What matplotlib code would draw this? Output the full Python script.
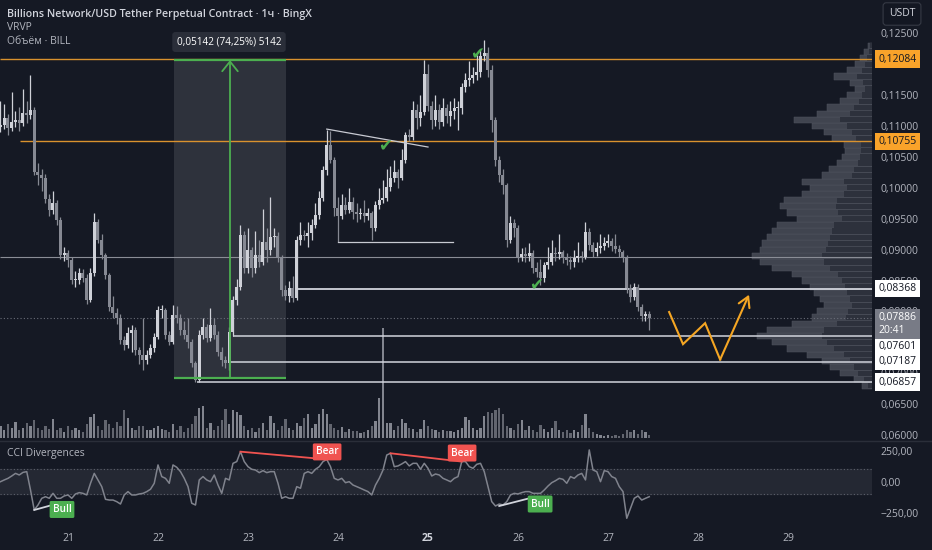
import matplotlib
matplotlib.use('Agg')
import matplotlib.pyplot as plt
from matplotlib.patches import Rectangle
from matplotlib.transforms import blended_transform_factory
from matplotlib.lines import Line2D

plt.rcParams['font.family'] = ['Open Sans', 'DejaVu Sans']

# ---------------- data ----------------
first_open = 0.1098
closes = [
 0.1102, 0.1113, 0.1097, 0.1106, 0.1110, 0.1105, 0.1121, 0.1118, 0.1126, 0.1026,
 0.1020, 0.1016, 0.0982, 0.0964, 0.0976, 0.0948, 0.0891, 0.0895, 0.0883, 0.0851,
 0.0851, 0.0862, 0.0854, 0.0819, 0.0862, 0.0945, 0.0916, 0.0891, 0.0859, 0.0807,
 0.0797, 0.0789, 0.0754, 0.0746, 0.0765, 0.0770, 0.0738, 0.0730, 0.0722, 0.0730,
 0.0741, 0.0759, 0.0802, 0.0802, 0.0762, 0.0751, 0.0794, 0.0789, 0.0770, 0.0762,
 0.0751, 0.0717, 0.0689, 0.0762, 0.0775, 0.0757, 0.0778, 0.0762, 0.0735, 0.0721,
 0.0716, 0.0767, 0.0818, 0.0840, 0.0924, 0.0870, 0.0899, 0.0870, 0.0891, 0.0880,
 0.0912, 0.0899, 0.0920, 0.0922, 0.0888, 0.0835, 0.0825, 0.0838, 0.0822, 0.0915,
 0.0923, 0.0922, 0.0927, 0.0940, 0.0956, 0.0984, 0.1029, 0.1069, 0.1045, 0.0968,
 0.0955, 0.0972, 0.0964, 0.0977, 0.0961, 0.0958, 0.0959, 0.0955, 0.0959, 0.0935,
 0.0972, 0.0980, 0.0984, 0.1001, 0.1016, 0.1025, 0.1016, 0.1045, 0.1085, 0.1082,
 0.1126, 0.1113, 0.1123, 0.1184, 0.1132, 0.1110, 0.1126, 0.1106, 0.1129, 0.1116,
 0.1124, 0.1129, 0.1129, 0.1163, 0.1174, 0.1178, 0.1182, 0.1187, 0.1213, 0.1218,
 0.1191, 0.1110, 0.1045, 0.1021, 0.1004, 0.0916, 0.0943, 0.0935, 0.0888, 0.0893,
 0.0890, 0.0895, 0.0870, 0.0864, 0.0854, 0.0875, 0.0880, 0.0895, 0.0893, 0.0896,
 0.0886, 0.0883, 0.0880, 0.0886, 0.0890, 0.0888, 0.0928, 0.0907, 0.0896, 0.0902,
 0.0906, 0.0910, 0.0914, 0.0906, 0.0901, 0.0896, 0.0888, 0.0838, 0.0823, 0.0840,
 0.0807, 0.0792, 0.0795, 0.07886]
highs = [
 0.1140, 0.1135, 0.1120, 0.1155, 0.1125, 0.1130, 0.1160, 0.1140, 0.1183, 0.1130,
 0.1040, 0.1030, 0.1022, 0.0990, 0.0995, 0.0980, 0.0952, 0.0905, 0.0900, 0.0888,
 0.0865, 0.0870, 0.0868, 0.0860, 0.0870, 0.0959, 0.0950, 0.0925, 0.0895, 0.0862,
 0.0825, 0.0805, 0.0795, 0.0760, 0.0775, 0.0778, 0.0775, 0.0742, 0.0790, 0.0738,
 0.0748, 0.0765, 0.0808, 0.0810, 0.0805, 0.0768, 0.0810, 0.0808, 0.0795, 0.0785,
 0.0790, 0.0755, 0.0720, 0.0770, 0.0790, 0.0780, 0.0805, 0.0790, 0.0768, 0.0742,
 0.0728, 0.0775, 0.0825, 0.0852, 0.0940, 0.0930, 0.0935, 0.0905, 0.0930, 0.0915,
 0.0965, 0.0935, 0.0985, 0.0935, 0.0928, 0.0892, 0.0842, 0.0850, 0.0858, 0.0922,
 0.0945, 0.0932, 0.0945, 0.0950, 0.0975, 0.0995, 0.1035, 0.1094, 0.1092, 0.1050,
 0.0985, 0.0990, 0.0985, 0.1000, 0.0985, 0.0975, 0.0968, 0.0980, 0.0968, 0.0962,
 0.0978, 0.1000, 0.1012, 0.1030, 0.1035, 0.1045, 0.1030, 0.1062, 0.1090, 0.1095,
 0.1140, 0.1135, 0.1150, 0.1207, 0.1200, 0.1140, 0.1150, 0.1135, 0.1145, 0.1135,
 0.1140, 0.1145, 0.1140, 0.1170, 0.1185, 0.1205, 0.1195, 0.1215, 0.1225, 0.1239,
 0.1228, 0.1198, 0.1115, 0.1052, 0.1030, 0.1008, 0.0955, 0.0950, 0.0940, 0.0902,
 0.0905, 0.0910, 0.0900, 0.0880, 0.0885, 0.0880, 0.0905, 0.0915, 0.0905, 0.0925,
 0.0900, 0.0895, 0.0890, 0.0900, 0.0912, 0.0898, 0.0945, 0.0935, 0.0912, 0.0912,
 0.0925, 0.0920, 0.0925, 0.0918, 0.0925, 0.0908, 0.0900, 0.0892, 0.0845, 0.0846,
 0.0845, 0.0812, 0.0800, 0.0800]
lows = [
 0.1090, 0.1095, 0.1085, 0.1092, 0.1098, 0.1092, 0.1100, 0.1105, 0.1112, 0.1020,
 0.1005, 0.0995, 0.0975, 0.0955, 0.0958, 0.0940, 0.0885, 0.0882, 0.0872, 0.0845,
 0.0840, 0.0845, 0.0848, 0.0812, 0.0815, 0.0858, 0.0910, 0.0885, 0.0852, 0.0800,
 0.0790, 0.0780, 0.0748, 0.0738, 0.0740, 0.0735, 0.0730, 0.0715, 0.0705, 0.0715,
 0.0725, 0.0735, 0.0755, 0.0790, 0.0755, 0.0745, 0.0748, 0.0782, 0.0762, 0.0755,
 0.0740, 0.0710, 0.0685, 0.0686, 0.0755, 0.0750, 0.0752, 0.0755, 0.0728, 0.0712,
 0.0708, 0.0705, 0.0760, 0.0810, 0.0835, 0.0862, 0.0862, 0.0855, 0.0862, 0.0872,
 0.0875, 0.0880, 0.0892, 0.0905, 0.0880, 0.0825, 0.0818, 0.0815, 0.0815, 0.0818,
 0.0908, 0.0915, 0.0905, 0.0915, 0.0935, 0.0950, 0.0978, 0.1020, 0.1040, 0.0955,
 0.0913, 0.0950, 0.0958, 0.0960, 0.0950, 0.0945, 0.0950, 0.0945, 0.0948, 0.0915,
 0.0930, 0.0965, 0.0975, 0.0978, 0.0995, 0.1010, 0.1000, 0.1012, 0.1040, 0.1075,
 0.1078, 0.1095, 0.1100, 0.1118, 0.1125, 0.1095, 0.1100, 0.1095, 0.1100, 0.1105,
 0.1100, 0.1112, 0.1093, 0.1120, 0.1155, 0.1165, 0.1170, 0.1175, 0.1180, 0.1205,
 0.1180, 0.1090, 0.1035, 0.1010, 0.0990, 0.0905, 0.0910, 0.0920, 0.0880, 0.0882,
 0.0880, 0.0882, 0.0862, 0.0855, 0.0843, 0.0848, 0.0868, 0.0875, 0.0882, 0.0885,
 0.0878, 0.0875, 0.0868, 0.0872, 0.0880, 0.0880, 0.0885, 0.0900, 0.0888, 0.0890,
 0.0895, 0.0900, 0.0905, 0.0898, 0.0895, 0.0888, 0.0880, 0.0830, 0.0815, 0.0818,
 0.0800, 0.0785, 0.0785, 0.0770]
volumes = [
 12, 8, 14, 10, 16, 8, 10, 15, 12, 18,
 10, 8, 12, 9, 19, 8, 10, 6, 12, 8,
 10, 8, 6, 14, 21, 24, 12, 8, 18, 14,
 10, 16, 12, 28, 20, 10, 8, 12, 12, 8,
 8, 10, 12, 9, 8, 6, 14, 8, 12, 6,
 10, 14, 22, 30, 32, 10, 15, 8, 12, 18,
 29, 14, 28, 26, 23, 12, 8, 10, 6, 10,
 15, 8, 22, 15, 8, 12, 19, 10, 8, 15,
 12, 20, 24, 10, 14, 24, 29, 24, 14, 10,
 8, 11, 6, 9, 7, 7, 5, 6, 8, 12,
 17, 40, 110, 15, 15, 8, 12, 19, 15, 10,
 9, 6, 9, 18, 12, 9, 8, 6, 8, 7,
 7, 6, 8, 10, 21, 18, 10, 8, 10, 22,
 26, 25, 28, 30, 24, 12, 10, 8, 14, 18,
 8, 12, 8, 6, 13, 9, 6, 10, 17, 8,
 6, 8, 5, 8, 6, 13, 24, 10, 6, 4,
 3, 2, 3, 2, 3, 2, 4, 8, 6, 8,
 4, 8, 6, 3]
cci = [
 0, 14, 27, 46, 67, 54, 75, 81, -67, -228,
 -188, -134, -121, -134, -94, -134, -134, -115, -107, -134,
 -99, -88, -94, -107, -13, 67, 14, -40, -142, -148,
 -148, -161, -180, -107, -80, -107, -107, -99, -94, -80,
 -61, -13, 135, 41, 27, -13, 135, 116, 81, 27,
 -40, -174, -188, 14, 41, 14, 0, 54, -27, -94,
 27, 14, 148, 162, 242, 162, 121, 100, 94, 73,
 89, 73, 81, 81, -13, -134, -121, -134, -134, -40,
 -53, 67, 81, 67, 100, 121, 162, 180, 121, 27,
 14, 27, -8, 0, -27, -40, -53, -67, -80, -107,
 -27, 27, 94, 215, 229, 121, 127, 143, 162, 127,
 148, 148, 100, 148, 108, 46, 62, 54, 27, 14,
 0, 27, 41, 162, 162, 121, 108, 140, 148, 81,
 -40, -161, -196, -180, -188, -161, -107, -94, -99, -88,
 -80, -80, -94, -94, -94, -67, -35, -8, 8, 27,
 19, -13, 41, 27, 54, 67, 14, 256, 94, 81,
 0, 89, 81, 41, 27, -40, -80, -295, -215, -134,
 -115, -148, -134, -121]

# volume profile (VRVP) rows: total and the inner (darker) part
vp_first_row = 0.0675
vp_row_size = 0.001
vp_volumes = [10, 18, 32, 42, 50, 65, 85, 100, 115, 105, 80, 60, 55, 48, 52, 58, 62, 70, 80, 100,
              112, 120, 112, 110, 105, 100, 95, 75, 85, 92, 88, 70, 62, 70, 50, 43, 35, 30, 27, 28,
              40, 48, 60, 78, 55, 45, 32, 25, 17, 22, 38, 25, 17, 12, 8, 4]
vp_inner = [4, 8, 14, 18, 22, 28, 38, 45, 50, 48, 35, 26, 24, 20, 22, 25, 27, 30, 34, 42,
            48, 50, 46, 44, 42, 40, 38, 30, 34, 36, 35, 28, 25, 28, 20, 18, 14, 12, 11, 11,
            16, 20, 25, 32, 22, 18, 13, 10, 7, 9, 15, 10, 7, 5, 3, 2]

day_labels = ['21', '22', '23', '24', '25', '26', '27', '28', '29']
day_index = [18, 42, 66, 90, 114, 138, 162, 186, 210]
price_ticks = [0.060, 0.065, 0.070, 0.075, 0.080, 0.085, 0.090, 0.095,
               0.100, 0.105, 0.110, 0.115, 0.120, 0.125]
hidden_ticks = [0.075, 0.120]          # fully covered by price tags in the reference
cci_ticks = [250, 0, -250]
cci_tick_labels = ['250,00', '0,00', '\u2212250,00']

# horizontal levels
level_prices = [0.12084, 0.10755, 0.0888, 0.08368, 0.07601, 0.07187, 0.06857]
level_start = [-0.2, 5.2, -0.2, 78.5, 62.0, 60.7, 52.4]
last_price = 0.07886
timer_text = '20:41'

# measurement (price range) tool
measure_x = (46.3, 76.1)
measure_y = (0.06925, 0.12067)
measure_label = '0,05142 (74,25%) 5142'

# drawings
trend_x = [87, 114]
trend_y = [0.1095, 0.1066]
base_x = [90, 120.7]
base_y = [0.0913, 0.0913]
checks_x = [102.5, 127.1, 142.8]
checks_y = [0.10675, 0.12165, 0.08428]
proj_x = [178.3, 182.0, 187.9, 191.9, 199.6]
proj_y = [0.0799, 0.0747, 0.0781, 0.0722, 0.0827]

# CCI divergences: (i0, v0, i1, v1, label, label_i, label_v)
divergences = [
    (9, -228, 15, -178, 'Bull', 16.4, -224),
    (64, 242, 87, 180, 'Bear', 87.1, 240),
    (104, 229, 123, 162, 'Bear', 123.1, 231),
    (133, -196, 141, -134, 'Bull', 143.9, -180),
]

# ---------------- style ----------------
BG = '#151924'
UP = '#cfd1d8'
DOWN = '#868993'
TXT = '#b2b5be'
ORANGE_LINE = '#d9922e'
ORANGE_TAG = '#f9a32a'
GREEN = '#4caf50'
RED = '#f05350'

W, H = 932, 550
fig = plt.figure(figsize=(W / 100, H / 100), dpi=100, facecolor=BG)


def rect(x0, y0, x1, y1):
    return [x0 / W, 1 - y1 / H, (x1 - x0) / W, (y1 - y0) / H]


main_rect = rect(0, 0, 872, 440)
cci_rect = rect(0, 441, 872, 522)
XL = (-0.133, 232.4)
YL = (0.05919, 0.13039)

axp = fig.add_axes(main_rect, zorder=0)
axv = fig.add_axes(main_rect, zorder=1)
ax = fig.add_axes(main_rect, zorder=2)
axc = fig.add_axes(cci_rect, zorder=2)
for a in (axp, axv, ax, axc):
    a.set_facecolor('none')
    for s in a.spines.values():
        s.set_visible(False)

# ---- volume profile ----
vp_centers = [vp_first_row + vp_row_size * (k + 0.5) for k in range(len(vp_volumes))]
axp.barh(vp_centers, vp_volumes, height=vp_row_size, left=0, color='#40444f',
         edgecolor='#50545f', linewidth=0.35)
axp.barh(vp_centers, vp_inner, height=vp_row_size * 0.85, left=0, color='#2d313c',
         linewidth=0)
axp.set_xlim(max(vp_volumes) / 0.138, 0)
axp.set_ylim(*YL)
axp.axis('off')

# ---- volume ----
idx = list(range(len(closes)))
opens = [first_open] + closes[:-1]
is_up = [c >= o for o, c in zip(opens, closes)]
vcols = ['#82858f' if u else '#62656f' for u in is_up]
axv.bar(idx, volumes, width=0.66, color=vcols, linewidth=0)
axv.set_xlim(*XL)
axv.set_ylim(-2, 438)
axv.axis('off')

# ---- main price panel ----
ax.set_xlim(*XL)
ax.set_ylim(*YL)

# measurement box
ax.add_patch(Rectangle((measure_x[0], measure_y[0]), measure_x[1] - measure_x[0],
                       measure_y[1] - measure_y[0], facecolor='#9598a1', alpha=0.2,
                       edgecolor='none', zorder=1))
ax.hlines(measure_y, measure_x[0], measure_x[1], color=GREEN, lw=1.6, zorder=4)
mid = (measure_x[0] + measure_x[1]) / 2
ax.annotate('', xy=(mid, measure_y[1]), xytext=(mid, measure_y[0]),
            arrowprops=dict(arrowstyle='->,head_length=0.5,head_width=0.4', color=GREEN,
                            lw=1.3, shrinkA=0, shrinkB=0, mutation_scale=14), zorder=4)

# horizontal levels
lcols = [ORANGE_LINE, ORANGE_LINE, '#8a8d96', '#d1d4dc', '#d1d4dc', '#d1d4dc', '#d1d4dc']
lws = [1.0, 1.0, 0.8, 1.3, 1.1, 1.1, 1.1]
for p, s, c, w in zip(level_prices, level_start, lcols, lws):
    ax.hlines(p, s, XL[1], color=c, lw=w, zorder=2)
ax.axhline(last_price, color='#6a6d78', lw=0.8, ls=(0, (1, 2)), zorder=2)

# candles
ccols = [UP if u else DOWN for u in is_up]
ax.vlines(idx, lows, highs, colors=ccols, lw=0.9, zorder=3)
bodies = [max(abs(c - o), 0.00014) for o, c in zip(opens, closes)]
bottoms = [min(o, c) for o, c in zip(opens, closes)]
ax.bar(idx, bodies, bottom=bottoms, width=0.8, color=ccols, linewidth=0, zorder=3)

# drawings
ax.plot(trend_x, trend_y, color='#c8cad2', lw=0.9, zorder=4)
ax.plot(base_x, base_y, color='#c8cad2', lw=0.9, zorder=4)
for x, y in zip(checks_x, checks_y):
    ax.text(x, y, '\u2714', color=GREEN, fontsize=12, ha='center', va='center',
            family='DejaVu Sans', zorder=6)
ax.plot(proj_x[:-1], proj_y[:-1], color='#f5a623', lw=1.5, zorder=5, solid_joinstyle='miter')
ax.annotate('', xy=(proj_x[-1], proj_y[-1]), xytext=(proj_x[-2], proj_y[-2]),
            arrowprops=dict(arrowstyle='->,head_length=0.6,head_width=0.35', color='#f5a623',
                            lw=1.5, shrinkA=0, shrinkB=0, mutation_scale=12), zorder=5)

# price scale
ax.yaxis.tick_right()
ax.set_yticks(price_ticks)
ax.set_yticklabels(['' if p in hidden_ticks else f'{p:.5f}'.replace('.', ',')
                    for p in price_ticks])
ax.tick_params(axis='y', length=0, pad=5.8, labelsize=7.5, labelcolor=TXT)
ax.set_xticks([])

tr = blended_transform_factory(ax.transAxes, ax.transData)


def tag(price, text, fc, tc, va='center', ls=1.35):
    ax.text(1.0075, price, text, transform=tr, ha='left', va=va, fontsize=7.5, color=tc,
            linespacing=ls,
            bbox=dict(boxstyle='square,pad=0.3', fc=fc, ec='none'), clip_on=False, zorder=20)


# tag centre prices (TradingView pushes the 0,07601 tag below the live-price tag)
tag_pos = [0.12084, 0.10755, None, 0.08368, 0.07440, 0.07187, 0.06857]
tag_fc = [ORANGE_TAG, ORANGE_TAG, None, 'white', 'white', 'white', 'white']
for p, tp, fc in zip(level_prices, tag_pos, tag_fc):
    if fc:
        tag(tp, f'{p:.5f}'.replace('.', ','), fc, '#131722')
tag(0.07983, f'{last_price:.5f}'.replace('.', ',') + '\n' + timer_text, '#787b86', 'white',
    va='top', ls=1.2)

# ---- CCI panel ----
axc.set_xlim(*XL)
axc.set_ylim(-325, 328)
axc.axhspan(-100, 100, color='#242833', zorder=0)
for lv in (100, -100):
    axc.axhline(lv, color='#5d606b', lw=0.8, ls=(0, (1, 2)), zorder=1)
axc.plot(idx, cci, color='#80838d', lw=1.1, zorder=2)
for i0, v0, i1, v1, lab, li, lv in divergences:
    col = GREEN if lab == 'Bull' else RED
    lcol = '#d1d4dc' if lab == 'Bull' else RED
    axc.plot([i0, i1], [v0, v1], color=lcol, lw=1.3, zorder=3)
    axc.text(li, lv, lab, ha='center', va='center', fontsize=7.2, color='white', weight='semibold',
             bbox=dict(boxstyle='round,pad=0.3,rounding_size=0.15', fc=col, ec='none'), zorder=4)
axc.yaxis.tick_right()
axc.set_yticks(cci_ticks)
axc.set_yticklabels(cci_tick_labels)
axc.tick_params(axis='y', length=0, pad=5.8, labelsize=7.5, labelcolor=TXT)
axc.set_xticks(day_index)
axc.set_xticklabels(day_labels)
axc.tick_params(axis='x', length=0, pad=8, labelsize=7.5, labelcolor=TXT)
axc.get_xticklabels()[4].set_fontweight('bold')
axc.get_xticklabels()[4].set_color('#d1d4dc')
axc.text(7 / 872, 0.85, 'CCI Divergences', transform=axc.transAxes, fontsize=7.5, color=TXT,
         ha='left', va='center')

# pane separators
fig.add_artist(Line2D([0, 1], [1 - 440.5 / H] * 2, color='#2a2e39', lw=1))

# ---- header texts ----
fig.text(7 / W, 1 - 14 / H, 'Billions Network/USD Tether Perpetual Contract \u00b7 1\u0447 \u00b7 BingX',
         fontsize=7.7, color='#d1d4dc', weight='semibold', ha='left', va='center')
fig.text(7 / W, 1 - 28 / H, 'VRVP', fontsize=7.5, color=TXT, ha='left', va='center')
fig.text(7 / W, 1 - 42 / H, '\u041e\u0431\u044a\u0451\u043c \u00b7 BILL', fontsize=7.5, color=TXT,
         ha='left', va='center')
fig.text(229 / W, 1 - 42 / H, measure_label, fontsize=7.2, color='white', ha='center', va='center',
         bbox=dict(boxstyle='round,pad=0.45,rounding_size=0.3', fc='#2a2e39', ec='none'), zorder=10)
fig.text(902 / W, 1 - 14 / H, 'USDT', fontsize=7.5, color='#d1d4dc', ha='center', va='center',
         bbox=dict(boxstyle='round,pad=0.55,rounding_size=0.3', fc='#131722', ec='#363a45', lw=0.8),
         zorder=10)

fig.savefig('out.png', dpi=100, facecolor=BG)
